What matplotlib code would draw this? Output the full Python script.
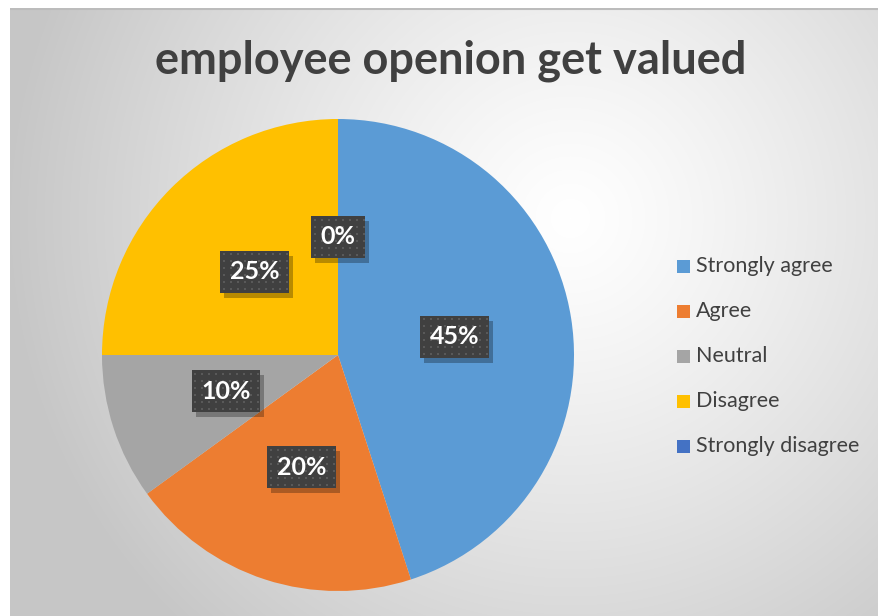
import numpy as np
import matplotlib
matplotlib.use("Agg")
import matplotlib.pyplot as plt
from matplotlib.patches import Rectangle

# data
categories = ["Strongly agree", "Agree", "Neutral", "Disagree", "Strongly disagree"]
values = [45, 20, 10, 25, 0]
colors = ["#5B9BD5", "#ED7D31", "#A5A5A5", "#FFC000", "#4472C4"]
title = "employee openion get valued"

W, H = 879, 616
fig = plt.figure(figsize=(W / 100, H / 100), dpi=100)
fig.patch.set_facecolor("white")

# background: radial gradient like the excel chart area
bg = fig.add_axes([10 / W, 0, 1 - 10 / W, 1 - 8 / H])
bg.set_axis_off()
yy, xx = np.mgrid[0:H - 8, 0:W - 10]
d = np.hypot(xx - 560, yy - 210)
shade = 1.0 - 0.22 * np.clip(d / 560, 0, 1) ** 1.2
bg.imshow(np.dstack([shade] * 3), aspect="auto", extent=[0, 1, 0, 1])
bg.plot([0, 1], [0.998, 0.998], color="#bcbcbc", lw=1.5, transform=bg.transAxes)

fig.text(451 / W, 1 - 61 / H, title, ha="center", va="center",
         fontsize=32.5, fontweight="bold", color="#404040", family="Lato")

# pie
cx, cy, r = 338, 355, 236
ax = fig.add_axes([(cx - r) / W, (H - cy - r) / H, 2 * r / W, 2 * r / H])
ax.set_axis_off()
wedges, texts, autotexts = ax.pie(values, colors=colors, startangle=90,
                                  counterclock=False, autopct="%1.0f%%",
                                  pctdistance=0.5, radius=1,
                                  wedgeprops=dict(linewidth=0))
ax.set_xlim(-1, 1)
ax.set_ylim(-1, 1)

for t in autotexts:
    t.set_fontsize(18)
    t.set_fontweight("bold")
    t.set_family("Lato")
    t.set_color("white")
    t.set_zorder(5)
    t.set_bbox(dict(boxstyle="square,pad=0.38", fc="none", ec="none"))

# measure label boxes, then draw shadow, dark box and dot pattern beneath the text
fig.canvas.draw()
for t in autotexts:
    bb = t.get_bbox_patch().get_window_extent()
    t.set_bbox(None)
    ax.add_patch(Rectangle((bb.x0 + 4, bb.y0 - 5), bb.width, bb.height, transform=None,
                           fc="black", ec="none", alpha=0.28, zorder=2))
    ax.add_patch(Rectangle((bb.x0, bb.y0), bb.width, bb.height, transform=None,
                           fc="#404040", ec="none", zorder=3))
    gx = np.arange(bb.x0 + 3.5, bb.x1 - 1, 7)
    gy = np.arange(bb.y0 + 3.5, bb.y1 - 1, 7)
    px, py = np.meshgrid(gx, gy)
    ax.scatter(px.ravel(), py.ravel(), s=2.5, marker="s", c="#595959",
               linewidths=0, transform=None, zorder=4)

# legend
for i, (c, name) in enumerate(zip(colors, categories)):
    y = 1 - (266 + 45 * i) / H
    fig.patches.append(Rectangle((677 / W, y - 6.5 / H), 13 / W, 13 / H,
                                 transform=fig.transFigure, fc=c, ec="none"))
    fig.text(696 / W, y, name, ha="left", va="center", fontsize=15.5,
             color="#404040", family="Lato")

fig.savefig("out.png", dpi=100)
